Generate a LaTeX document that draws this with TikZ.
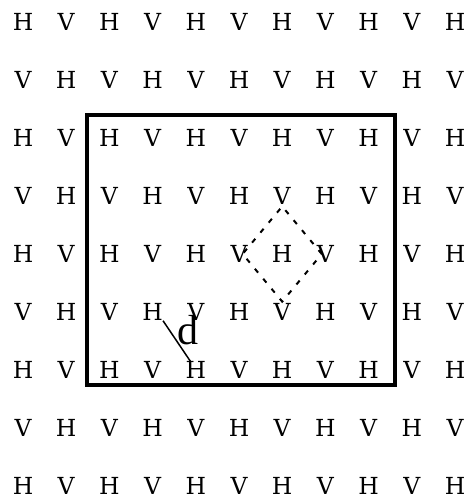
\documentclass[tikz,border=0pt]{standalone}
\usepackage{fontspec}
\newfontfamily\sitefont{DejaVu Serif}
\newfontfamily\labelfont{Liberation Serif}
\usetikzlibrary{shapes.geometric}
\begin{document}
\begin{tikzpicture}[x=1pt,y=-1pt,
    site/.style={inner sep=0pt,font=\sitefont\fontsize{23.5}{28}\selectfont},
    frame/.style={draw,line width=4pt},
    zone/.style={diamond,draw,line width=2pt,dash pattern=on 5pt off 8pt,minimum width=80pt,minimum height=96pt,inner sep=0pt},
    dist/.style={line width=1.5pt},
    dlab/.style={inner sep=0pt,font=\labelfont\fontsize{42}{46}\selectfont},
  ]
  \useasboundingbox (0,0) rectangle (467,499);
  % lattice of H / V sites
  \foreach \i in {0,...,10}{
    \foreach \j in {0,...,8}{
      \pgfmathtruncatemacro\parity{mod(\i+\j,2)}
      \ifnum\parity=0 \def\lt{H}\else\def\lt{V}\fi
      \node[site] (c-\i-\j) at ({23+43.2*\i},{22+58*\j}) {\lt};
    }
  }
  % block and neighbourhood
  \draw[frame] (87,115) rectangle (395,385);
  \node[zone] (zone) at (c-6-4) {};
  % distance d
  \draw[dist] (c-3-5.south east) -- ([xshift=5pt]c-4-6.north west);
  \node[dlab] (dname) at (188,330) {d};
\end{tikzpicture}
\end{document}
